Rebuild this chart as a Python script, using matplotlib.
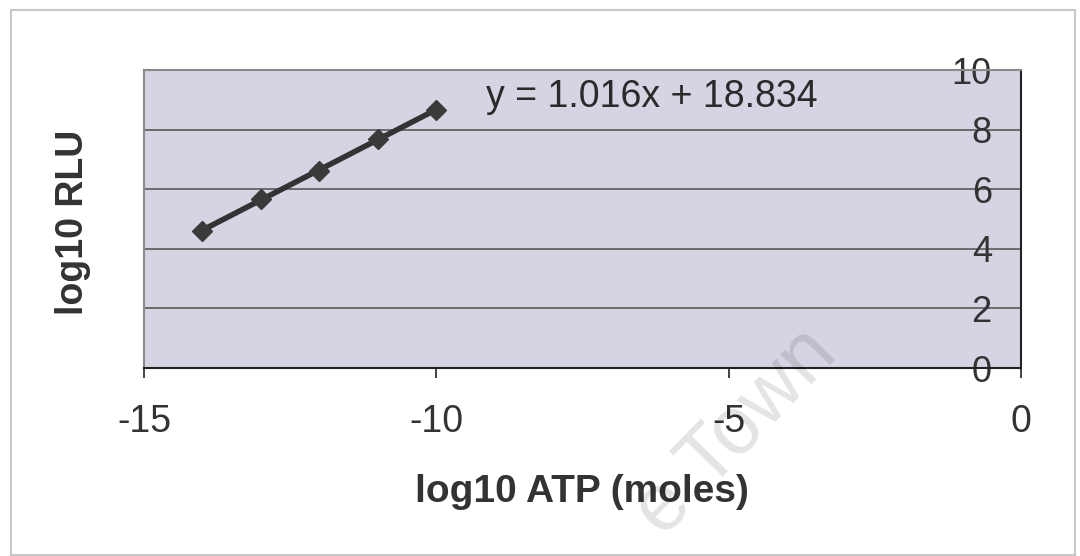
import numpy as np
from matplotlib import pyplot as plt
from matplotlib.patches import Rectangle

plt.rcParams['font.family'] = ['Liberation Sans', 'DejaVu Sans']
plt.rcParams['axes.unicode_minus'] = False

# log10 ATP (moles) and measured log10 RLU
log_atp = [-14, -13, -12, -11, -10]
log_rlu = [4.60, 5.68, 6.62, 7.70, 8.65]

x_ticks = [-15, -10, -5, 0]
y_ticks = [0, 2, 4, 6, 8, 10]

fig = plt.figure(figsize=(10.8, 5.56), dpi=100)
fig.patch.set_facecolor('white')
fig.patches.append(Rectangle((0.010, 0.002), 0.985, 0.980, transform=fig.transFigure,
                             fill=False, edgecolor='#c8c8c8', linewidth=1.5))

ax = fig.add_axes([0.1333, 0.3381, 0.8121, 0.5360])
ax.set_facecolor('#d5d4e2')

# linear fit (trendline)
slope, intercept = np.polyfit(log_atp, log_rlu, 1)
xs = np.array([log_atp[0], log_atp[-1]])
ax.plot(xs, slope * xs + intercept, color='#333333', linewidth=4, zorder=3)
ax.plot(log_atp, log_rlu, linestyle='none', marker='D', markersize=10.5,
        color='#3a3a3a', zorder=4)

ax.set_xlim(-15, 0)
ax.set_ylim(0, 10)
ax.set_xticks(x_ticks)
ax.set_yticks(y_ticks)
ax.grid(axis='y', color='#5a5a5a', linewidth=1.2)
ax.set_axisbelow(True)

for s in ['left', 'top']:
    ax.spines[s].set_color('#8a8a8a')
    ax.spines[s].set_linewidth(1.5)
for s in ['bottom', 'right']:
    ax.spines[s].set_color('#222222')
    ax.spines[s].set_linewidth(1.5)

ax.tick_params(axis='x', direction='out', length=7, width=1.2, color='#222222',
               pad=19, labelsize=27, labelcolor='#333333')
ax.tick_params(axis='y', left=False, labelleft=False, right=True, labelright=True,
               length=0, pad=-21, labelsize=26, labelcolor='#333333')
for lab in ax.get_yticklabels():
    lab.set_horizontalalignment('right')

ax.text(-9.15, 9.1, 'y = 1.016x + 18.834', fontsize=27, color='#2a2a2a',
        va='center', ha='left')

fig.text(0.539, 0.115, 'log10 ATP (moles)', fontsize=28, fontweight='bold',
         color='#333333', ha='center', va='center')
fig.text(0.068, 0.6, 'log10 RLU', fontsize=27, fontweight='bold', rotation=90,
         color='#333333', ha='center', va='center')

# faint scan watermark
fig.text(0.682, 0.222, 'e Town', fontsize=58, rotation=46, color='black',
         alpha=0.11, ha='center', va='center', zorder=10)

fig.savefig('out.png', dpi=100)
